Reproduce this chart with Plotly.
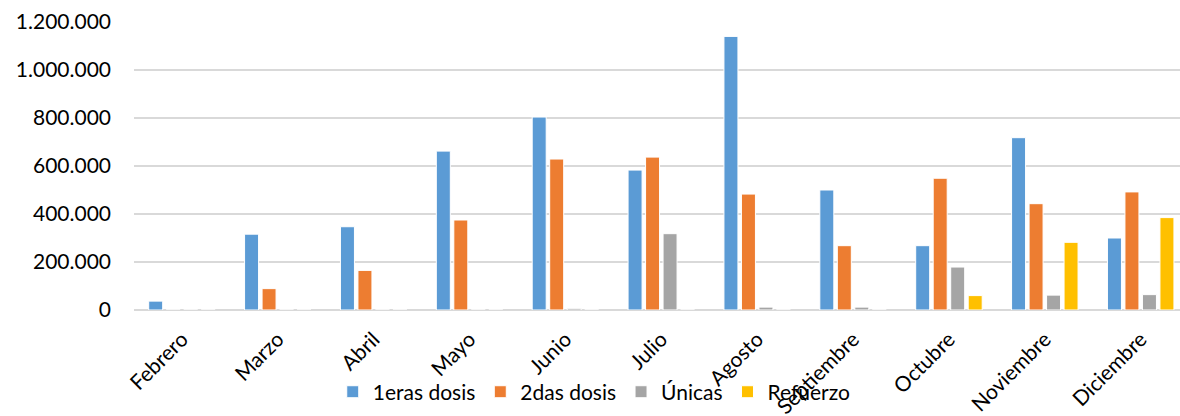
import plotly.graph_objects as go

meses = ["Febrero", "Marzo", "Abril", "Mayo", "Junio", "Julio", "Agosto",
         "Septiembre", "Octubre", "Noviembre", "Diciembre"]
primeras = [37000, 316000, 347000, 662000, 804000, 583000, 1140000, 500000, 268000, 718000, 300000]
segundas = [0, 89000, 165000, 375000, 629000, 637000, 483000, 268000, 549000, 443000, 492000]
unicas = [0, 0, 0, 0, 7000, 318000, 12000, 12000, 179000, 62000, 64000]
refuerzo = [0, 0, 0, 0, 0, 0, 0, 0, 60000, 282000, 385000]

series = [
    ("1eras dosis", primeras, "#5b9bd5"),
    ("2das dosis", segundas, "#ed7d31"),
    ("Únicas", unicas, "#a5a5a5"),
    ("Refuerzo", refuerzo, "#ffc000"),
]

fig = go.Figure()
for name, vals, col in series:
    fig.add_trace(go.Bar(x=meses, y=vals, name=name,
                         marker=dict(color=col, line=dict(color="white", width=1))))

font = "Lato, 'Open Sans', sans-serif"
fig.update_layout(
    width=1180, height=416,
    margin=dict(l=134, r=0, t=22, b=106, autoexpand=False),
    plot_bgcolor="white", paper_bgcolor="white",
    barmode="group", bargap=0.27, bargroupgap=0.2,
    separators=",.",
    font=dict(family=font, size=21, color="#000000"),
    showlegend=True,
    legend=dict(orientation="h", x=0.44, xanchor="center", y=-0.285, yanchor="middle",
                font=dict(size=21), itemwidth=30, traceorder="normal",
                bgcolor="rgba(0,0,0,0)"),
    xaxis=dict(range=[-0.5, 10.41], tickangle=-45, showgrid=False, showline=False,
               ticks="", tickfont=dict(size=21), automargin=False, ticklabelstandoff=12),
    yaxis=dict(range=[0, 1200000], dtick=200000, tickformat=",d",
               gridcolor="#d9d9d9", gridwidth=1.5, zeroline=True, zerolinecolor="#d9d9d9",
               zerolinewidth=1.5, showline=False, ticks="", ticklabelstandoff=22,
               tickfont=dict(size=21), automargin=False),
)

fig.write_html("out.html", config={"displayModeBar": False},
               post_script="document.body.style.margin='0';")
